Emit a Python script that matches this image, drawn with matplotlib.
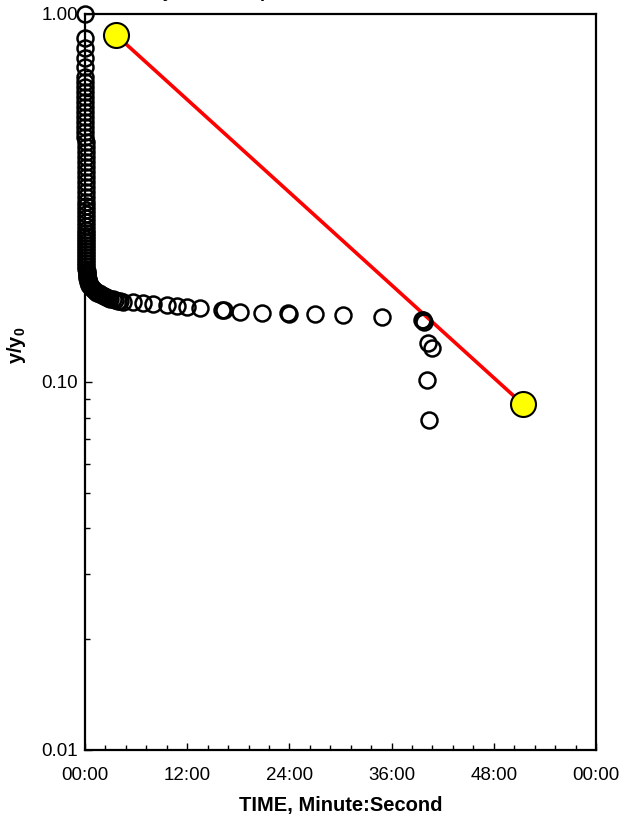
import matplotlib
matplotlib.use("Agg")
import matplotlib.pyplot as plt
import matplotlib.ticker as ticker

plt.rcParams["font.family"] = ["Liberation Sans", "DejaVu Sans"]
plt.rcParams["mathtext.fontset"] = "custom"
plt.rcParams["mathtext.rm"] = "Liberation Sans"
plt.rcParams["mathtext.bf"] = "Liberation Sans:bold"

# Measured head ratio y/y0 against elapsed time (seconds)
time_s = [
    0, 0.2, 0.4, 0.6, 0.8, 1.0, 1.2, 1.4, 1.6, 1.8,
    2.0, 2.2, 2.4, 2.6, 2.8, 3.0, 3.2, 3.4, 3.6, 3.8,
    4.0, 4.2, 4.4, 4.6, 4.8, 5.0, 5.2, 5.4, 5.6, 5.8,
    6.0, 6.2, 6.4, 6.6, 6.8, 7.0, 7.2, 7.4, 7.6, 7.8,
    8.0, 8.2, 8.4, 8.6, 8.8, 9.0, 9.2, 9.4, 9.6, 9.8,
    10.0,
    11, 12, 13.5, 15, 17, 19, 21, 24, 27, 30,
    34, 38, 43, 49, 55, 62, 70, 78, 87, 97,
    108, 120, 133, 147, 162, 178, 195, 213, 232, 250,
    268, 338, 409, 479, 577, 648, 718, 810, 966, 978,
    1092, 1248, 1428, 1440, 1620, 1818, 2094, 2376, 2382, 2388,
    2418, 2442, 2406, 2424,
]
head_ratio = [
    1.000, 0.861, 0.808, 0.759, 0.718, 0.674, 0.654, 0.633, 0.614, 0.595,
    0.577, 0.559, 0.542, 0.525, 0.509, 0.493, 0.478, 0.463, 0.449, 0.435,
    0.422, 0.409, 0.396, 0.384, 0.372, 0.361, 0.350, 0.339, 0.328, 0.318,
    0.308, 0.301, 0.293, 0.286, 0.279, 0.272, 0.265, 0.259, 0.254, 0.249,
    0.245, 0.240, 0.236, 0.231, 0.227, 0.223, 0.219, 0.215, 0.211, 0.207,
    0.203,
    0.200, 0.198, 0.196, 0.194, 0.192, 0.190, 0.189, 0.187, 0.186, 0.184,
    0.183, 0.182, 0.181, 0.180, 0.179, 0.178, 0.177, 0.176, 0.175, 0.174,
    0.173, 0.172, 0.171, 0.170, 0.169, 0.168, 0.168, 0.167, 0.166, 0.166,
    0.165, 0.165, 0.164, 0.163, 0.162, 0.161, 0.160, 0.159, 0.157, 0.157,
    0.155, 0.154, 0.154, 0.153, 0.153, 0.152, 0.150, 0.147, 0.147, 0.146,
    0.128, 0.124, 0.101, 0.079,
]

# Straight-line fit (two end points)
fit_time_s = [218, 3084]
fit_ratio = [0.877, 0.0871]

x_ticks_min = [0, 12, 24, 36, 48, 60]


def mmss(m, pos=None):
    total = int(round(m * 60))
    return "%02d:%02d" % ((total // 60) % 60, total % 60)


fig = plt.figure(figsize=(6.32, 8.22), dpi=100)
ax = fig.add_axes([0.1345, 0.0876, 0.8085, 0.8954])

ax.plot([t / 60 for t in fit_time_s], fit_ratio, "-", color="#ff0000", lw=2.6,
        marker="o", ms=18, mfc="#ffff00", mec="black", mew=1.5, zorder=3)
ax.plot([t / 60 for t in time_s], head_ratio, "o", ms=11.5, mfc="none", mec="black",
        mew=1.8, clip_on=False, zorder=4)

ax.set_yscale("log")
ax.set_ylim(0.01, 1.0)
ax.set_xlim(0, 60)
ax.set_xticks(x_ticks_min)
ax.xaxis.set_minor_locator(ticker.MultipleLocator(2.4))
ax.xaxis.set_major_formatter(ticker.FuncFormatter(mmss))
ax.yaxis.set_major_formatter(ticker.FuncFormatter(lambda v, p: "%.2f" % v))
ax.yaxis.set_minor_formatter(ticker.NullFormatter())

ax.tick_params(which="both", direction="in", top=False, right=False, width=1.0,
               labelsize=13.5, colors="black")
ax.tick_params(which="major", length=5)
ax.tick_params(which="minor", length=3.5)
ax.tick_params(axis="x", which="major", pad=12)
ax.tick_params(axis="y", which="major", pad=5)
for s in ax.spines.values():
    s.set_linewidth(1.6)

ax.set_xlabel("TIME, Minute:Second", fontsize=14.5, fontweight="bold", labelpad=9)
ax.set_ylabel(r"$\mathbf{y/y_0}$", fontsize=14.5)
ax.yaxis.set_label_coords(-0.112, 0.55)

fig.text(50 / 632, 1.0 + 3 / 822, "Well Recovery Data Sample Test", fontsize=13,
         fontweight="bold", ha="left", va="baseline")

fig.savefig("out.png", dpi=100)
